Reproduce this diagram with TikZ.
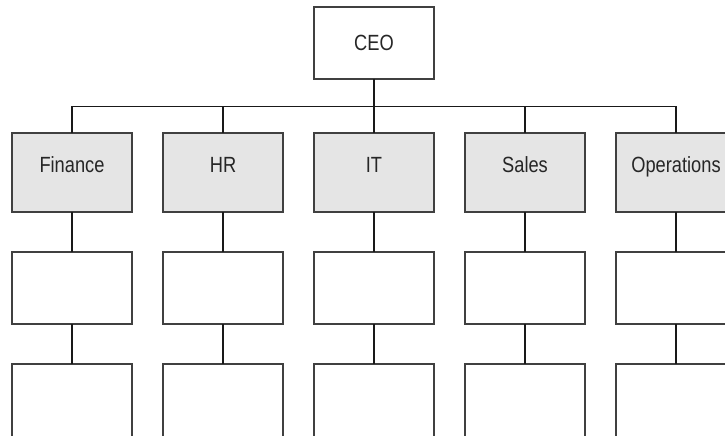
\documentclass[tikz,border=0pt]{standalone}
\usepackage{fontspec}
\setmainfont{Liberation Sans}[FakeStretch=0.83]
\usetikzlibrary{positioning}

\begin{document}
\begin{tikzpicture}[x=1pt, y=1pt, node distance=40pt and 31pt,
    box/.style = {draw=black!75, line width=1.2pt, rectangle, minimum width=120pt, minimum height=72pt, inner sep=0pt, outer sep=0pt, font=\fontsize{22}{26}\selectfont, text=black!85},
    dept/.style = {box, minimum height=79pt, fill=gray!20, text height=16pt, text depth=16pt},
    link/.style = {line width=1.5pt, black!90}]
    \useasboundingbox (0,0) rectangle (725,-436);
    \clip (0,0) rectangle (725,-436);
    \node[box] (ceo) at (374,-43) {CEO};
    \node[dept] (fin) at (72,-172.5) {Finance};
    \node[dept] (hr) [right=of fin] {HR};
    \node[dept] (it) [right=of hr] {IT};
    \node[dept] (sales) [right=of it] {Sales};
    \node[dept] (ops) [right=of sales] {Operations};
    \coordinate[below=27.5pt of ceo] (bus);
    \draw[link] (ceo) -- (bus);
    \foreach \d in {fin, hr, it, sales, ops} {
        \node[box] (\d1) [below=of \d] {};
        \node[box, minimum height=80pt] (\d2) [below=of \d1] {};
        \draw[link] (bus) -| (\d);
        \draw[link] (\d) -- (\d1);
        \draw[link] (\d1) -- (\d2);
    }
\end{tikzpicture}
\end{document}
